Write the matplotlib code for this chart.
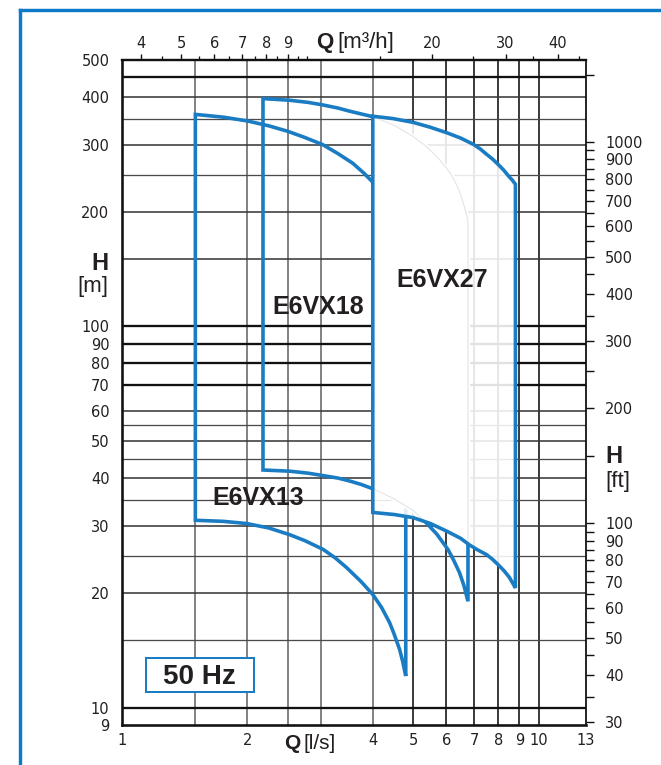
import matplotlib
matplotlib.use('Agg')
import matplotlib.pyplot as plt
from matplotlib.patches import Polygon, Rectangle
from matplotlib.lines import Line2D
from matplotlib.ticker import NullLocator

W, H = 661, 765
BLUE = '#1a7cc3'
INK = '#231f20'
M_TO_FT = 3.28084
LS_TO_M3H = 3.6

# pump ranges (Q in l/s, H in m)
e13_top_q = [1.5, 1.75, 2.0, 2.25, 2.5, 2.75, 3.03, 3.3, 3.58, 3.8, 4.0, 4.4, 4.8]
e13_top_h = [360, 354, 346, 336, 325, 313, 300, 284, 268, 253, 239, 210, 180]
e13_bot_q = [1.5, 1.75, 1.99, 2.25, 2.53, 2.75, 3.04, 3.25, 3.46, 3.75, 4.0,
             4.2, 4.39, 4.5, 4.64, 4.72, 4.8]
e13_bot_h = [31.0, 30.8, 30.4, 29.6, 28.4, 27.4, 26.0, 24.7, 23.3, 21.4, 19.8,
             18.3, 16.7, 15.6, 14.2, 13.2, 12.1]

e18_top_q = [2.18, 2.53, 2.8, 3.04, 3.3, 3.52, 3.75, 4.0, 4.5, 5.0, 5.35, 5.7,
             5.9, 6.13, 6.3, 6.47, 6.62, 6.77]
e18_top_h = [396, 392, 387, 381, 374, 367, 361, 355, 337, 315, 298, 279,
             267, 253, 240, 225, 208, 190]
e18_bot_q = [2.18, 2.53, 2.8, 3.04, 3.3, 3.52, 3.75, 4.0, 4.5, 5.0, 5.38, 5.7,
             6.06, 6.25, 6.46, 6.62, 6.77]
e18_bot_h = [42.0, 41.7, 41.2, 40.6, 40.0, 39.3, 38.5, 37.5, 35.3, 32.9, 30.5,
             28.5, 26.0, 24.4, 22.6, 20.9, 19.0]

e27_top_q = [4.0, 4.47, 5.0, 5.5, 6.03, 6.5, 6.99, 7.25, 7.5, 7.75, 8.0, 8.25,
             8.5, 8.65, 8.8]
e27_top_h = [356, 351, 343, 333, 322, 312, 300, 292, 283, 275, 266, 257,
             247, 242, 236]
e27_bot_q = [4.0, 4.5, 5.0, 5.5, 6.03, 6.5, 6.83, 7.15, 7.5, 7.75, 8.0, 8.25,
             8.5, 8.65, 8.8]
e27_bot_h = [32.5, 32.1, 31.5, 30.4, 29.0, 27.8, 26.7, 25.9, 25.2, 24.5, 23.7,
             22.9, 22.0, 21.3, 20.6]

# axes ticks
x_ticks = [1, 2, 4, 5, 6, 7, 8, 9, 10, 13]
y_ticks = [9, 10, 20, 30, 40, 50, 60, 70, 80, 90, 100, 200, 300, 400, 500]
top_major = [4, 5, 6, 7, 8, 9, 20, 30, 40]
top_minor = [4.5, 5.5, 6.5, 7.5, 8.5, 9.5, 10, 15, 25, 35, 45]
ft_major = [30, 40, 50, 60, 70, 80, 90, 100, 200, 300, 400, 500, 600, 700, 800, 900, 1000]
ft_minor = [35, 45, 55, 65, 75, 85, 95, 150, 250, 350, 450, 550, 650, 750, 850, 950, 1500]

# grid
v_grid_grey = [1.5, 2, 2.5, 3, 4]
v_grid_dark = [5, 6, 7, 8, 9, 10]
h_grid_thick = [450, 100, 90, 80, 70, 10]
h_grid_mid = [400, 300, 200, 150, 60, 50, 40, 30, 20]
h_grid_thin = [350, 250, 55, 45, 35, 25, 15]


def fx(x):
    return x / W


def fy(y):
    return 1 - y / H


def pt(px):
    return px * 0.72


def outline(top_q, top_h, bot_q, bot_h):
    return list(zip(top_q, top_h)) + list(zip(bot_q[::-1], bot_h[::-1]))


plt.rcParams['font.family'] = ['Liberation Sans', 'DejaVu Sans']

fig = plt.figure(figsize=(W / 100, H / 100), dpi=100)
ax = fig.add_axes([fx(122), fy(725), (586 - 122) / W, (725 - 60) / H])
ax.set_xscale('log')
ax.set_yscale('log')
ax.set_xlim(1, 13)
ax.set_ylim(9, 500)

for q in v_grid_grey:
    ax.axvline(q, color='#6f6f6f', lw=pt(1.7), zorder=1)
for q in v_grid_dark:
    ax.axvline(q, color='#1e1e1e', lw=pt(1.7), zorder=1)
for h in h_grid_thick:
    ax.axhline(h, color='#111111', lw=pt(2.3), zorder=1)
for h in h_grid_mid:
    ax.axhline(h, color='#3a3a3a', lw=pt(1.6), zorder=1)
for h in h_grid_thin:
    ax.axhline(h, color='#4a4a4a', lw=pt(1.3), zorder=1)

v13 = outline(e13_top_q, e13_top_h, e13_bot_q, e13_bot_h)
v18 = outline(e18_top_q, e18_top_h, e18_bot_q, e18_bot_h)
v27 = outline(e27_top_q, e27_top_h, e27_bot_q, e27_bot_h)

for v in (v13, v18):
    ax.add_patch(Polygon(v, closed=True, fill=False, edgecolor=BLUE,
                         lw=pt(3.6), joinstyle='miter', zorder=3))

# E6VX27 sits on top of the others, whitened
ax.add_patch(Polygon(v27, closed=True, facecolor='white', edgecolor='none',
                     alpha=0.88, zorder=4))
clip27 = Polygon(v27, closed=True, transform=ax.transData)
hide18 = Polygon(v18, closed=True, facecolor='white', edgecolor='white',
                 lw=pt(4.5), zorder=5)
ax.add_patch(hide18)
hide18.set_clip_path(clip27)
ghost18 = Polygon(v18, closed=True, fill=False, edgecolor='#e4e4e4',
                  lw=0.8, zorder=5.5)
ax.add_patch(ghost18)
ghost18.set_clip_path(clip27)
ax.add_patch(Polygon(v27, closed=True, fill=False, edgecolor=BLUE,
                     lw=pt(3.6), joinstyle='miter', zorder=6))

lab = dict(fontsize=18, fontweight='bold', color=INK, ha='center',
           va='baseline', zorder=7)
ax.text(2.12, 34.1, 'E6VX13', **lab)
ax.text(2.95, 107.5, 'E6VX18', **lab)
ax.text(5.87, 126.6, 'E6VX27', **lab)

# bottom / left
ax.set_xticks(x_ticks)
ax.set_xticklabels([str(v) for v in x_ticks])
ax.set_yticks(y_ticks)
ax.set_yticklabels([str(v) for v in y_ticks])
ax.xaxis.set_minor_locator(NullLocator())
ax.yaxis.set_minor_locator(NullLocator())
ax.tick_params(axis='x', length=0, pad=6, labelsize=10.5, labelcolor=INK,
               labelfontfamily='DejaVu Sans')
ax.tick_params(axis='y', length=0, pad=9, labelsize=10.5, labelcolor=INK,
               labelfontfamily='DejaVu Sans')
for side, w in (('left', 2.6), ('bottom', 2.6), ('top', 2.4), ('right', 1.8)):
    ax.spines[side].set_linewidth(pt(w))
    ax.spines[side].set_color('#111111')
    ax.spines[side].set_zorder(8)

# top: m3/h
axt = ax.twiny()
axt.set_xscale('log')
axt.set_xlim(1 * LS_TO_M3H, 13 * LS_TO_M3H)
axt.set_xticks(top_major)
axt.set_xticklabels([str(v) for v in top_major])
axt.set_xticks(top_minor, minor=True)
axt.set_xticklabels([], minor=True)
axt.tick_params(which='major', length=pt(6), width=pt(1.4), pad=2,
                labelsize=10.5, labelcolor=INK, color='#111111',
                labelfontfamily='DejaVu Sans')
axt.tick_params(which='minor', length=pt(4.5), width=pt(1.3), color='#111111')
for s in axt.spines.values():
    s.set_visible(False)

# right: ft
axr = ax.twinx()
axr.set_yscale('log')
axr.set_ylim(9 * M_TO_FT, 500 * M_TO_FT)
axr.set_yticks(ft_major)
axr.set_yticklabels([str(v) for v in ft_major])
axr.set_yticks(ft_minor, minor=True)
axr.set_yticklabels([], minor=True)
axr.tick_params(which='major', length=pt(8), width=pt(1.4), pad=pt(11),
                labelsize=10.5, labelcolor=INK, color='#111111',
                labelfontfamily='DejaVu Sans')
axr.tick_params(which='minor', length=pt(8), width=pt(1.4), color='#111111')
for s in axr.spines.values():
    s.set_visible(False)

# axis titles
fig.text(fx(108.5), fy(270), 'H', fontsize=17, fontweight='bold', color=INK,
         ha='right', va='baseline')
fig.text(fx(108.5), fy(292), '[m]', fontsize=16, color=INK,
         ha='right', va='baseline')
fig.text(fx(605), fy(463), 'H', fontsize=17, fontweight='bold', color=INK,
         ha='left', va='baseline')
fig.text(fx(605), fy(487), '[ft]', fontsize=16, color=INK,
         ha='left', va='baseline')
fig.text(fx(333.5), fy(48), 'Q', fontsize=16, fontweight='bold', color=INK,
         ha='right', va='baseline')
fig.text(fx(337), fy(48), '[m³/h]', fontsize=16, color=INK,
         ha='left', va='baseline')
fig.text(fx(300.5), fy(749), 'Q', fontsize=15, fontweight='bold', color=INK,
         ha='right', va='baseline')
fig.text(fx(303.5), fy(749), '[l/s]', fontsize=15, color=INK,
         ha='left', va='baseline')

# 50 Hz box
fig.add_artist(Rectangle((fx(145.7), fy(692.3)), (254.3 - 145.7) / W,
                         (692.3 - 657.7) / H, transform=fig.transFigure,
                         facecolor='white', edgecolor=BLUE, lw=pt(2.0),
                         zorder=1))
fig.text(fx(199), fy(684.3), '50 Hz', fontsize=20, fontweight='bold',
         color=INK, ha='center', va='baseline', zorder=3)

# blue frame
frame = dict(color='#0b7bc8', lw=pt(3.4), solid_capstyle='projecting')
fig.add_artist(Line2D([fx(20), fx(20)], [fy(10), 0], **frame))
fig.add_artist(Line2D([fx(20), 1], [fy(10), fy(10)], **frame))

fig.savefig('out.png', dpi=100, facecolor='white')
